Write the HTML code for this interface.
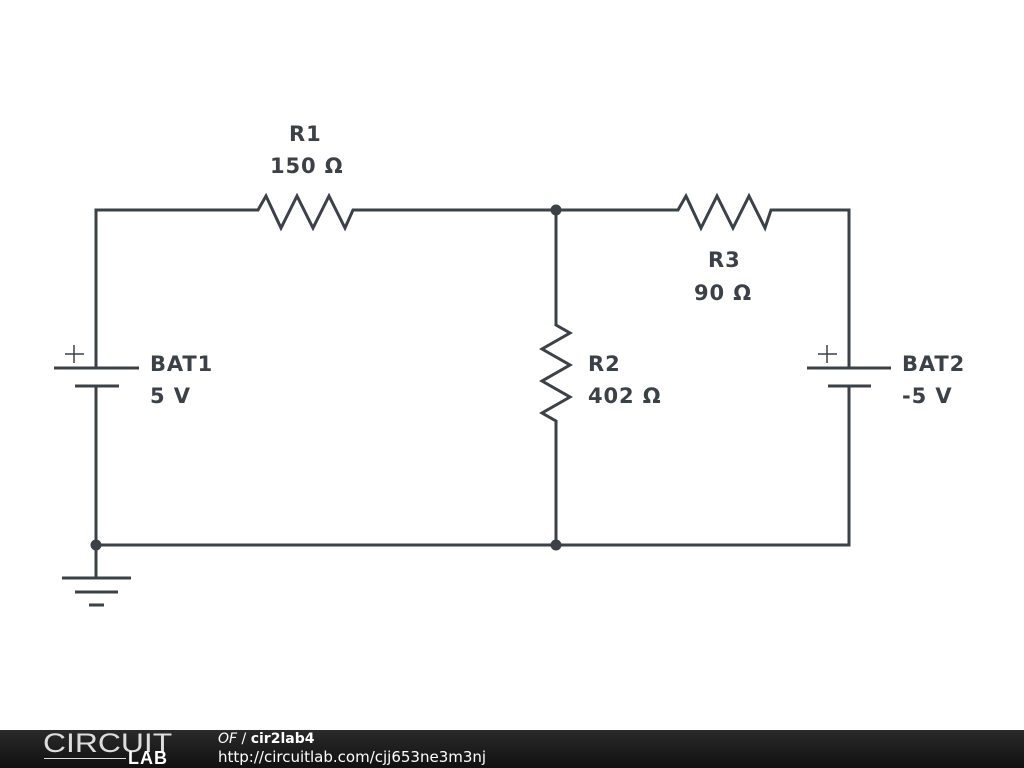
<!DOCTYPE html>
<html><head><style>
body{margin:0;width:1024px;height:768px;background:#fff;overflow:hidden;position:relative;font-family:"Liberation Sans",sans-serif}
.l{position:absolute;font-weight:bold;font-size:21px;color:#3b4147;line-height:30px;font-family:"DejaVu Sans",sans-serif;letter-spacing:0.9px}
#f{position:absolute;left:0;top:730px;width:1024px;height:38px;background:linear-gradient(#2a2a2a,#111)}
</style></head><body>
<svg width="1024" height="768" style="position:absolute;left:0;top:0" fill="none" stroke="#3b4147" stroke-width="3">
<polyline points="96,368 96,210 258,210 266,196 281,228 297,196 313,228 329,196 345,228 353,210 678,210 686,196 701,228 717,196 733,228 749,196 765,228 771,210 849,210 849,368"/>
<polyline points="556,210 556,325 570,333 542,349 570,365 542,381 570,397 542,413 556,421 556,545"/>
<polyline points="96,386 96,578"/>
<polyline points="849,386 849,545 96,545"/>
<line x1="54" y1="368" x2="139" y2="368"/><line x1="75" y1="386" x2="119" y2="386"/>
<line x1="807" y1="368" x2="891" y2="368"/><line x1="828" y1="386" x2="871" y2="386"/>
<line x1="62" y1="578" x2="131" y2="578"/><line x1="75" y1="592" x2="118" y2="592"/><line x1="89" y1="605" x2="104" y2="605"/>
<g stroke-width="1.5"><line x1="65" y1="354" x2="84" y2="354"/><line x1="74" y1="345" x2="74" y2="363"/>
<line x1="818" y1="354" x2="837" y2="354"/><line x1="827" y1="345" x2="827" y2="363"/></g>
<g fill="#3b4147" stroke="none"><circle cx="556" cy="210" r="5.5"/><circle cx="556" cy="545" r="5.5"/><circle cx="96" cy="545" r="5.5"/></g>
</svg>
<div class="l" style="left:289px;top:119px">R1</div>
<div class="l" style="left:270px;top:151px">150 Ω</div>
<div class="l" style="left:708px;top:245px">R3</div>
<div class="l" style="left:694px;top:278px">90 Ω</div>
<div class="l" style="left:588px;top:349px">R2</div>
<div class="l" style="left:588px;top:381px">402 Ω</div>
<div class="l" style="left:150px;top:349px">BAT1</div>
<div class="l" style="left:150px;top:381px">5 V</div>
<div class="l" style="left:902px;top:349px">BAT2</div>
<div class="l" style="left:902px;top:381px">-5 V</div>
<div id="f">
<div style="position:absolute;left:43px;top:0;color:#ddd;font-size:27px;line-height:26px;transform:scaleX(1.18);transform-origin:left">CIRCUIT</div>
<div style="position:absolute;left:44px;top:28px;width:82px;border-top:1.5px solid #ddd"></div>
<div style="position:absolute;left:128px;top:20px;color:#fff;font-weight:bold;font-size:18px;line-height:16px;letter-spacing:1px">LAB</div>
<div style="position:absolute;left:218px;top:1px;color:#fff;font-size:14px;line-height:17px;font-family:'DejaVu Sans',sans-serif"><i>OF</i> / <b>cir2lab4</b></div>
<div style="position:absolute;left:218px;top:19px;color:#fff;font-size:15px;line-height:17px;font-family:'DejaVu Sans',sans-serif">http://circuitlab.com/cjj653ne3m3nj</div>
</div>
</body></html>
